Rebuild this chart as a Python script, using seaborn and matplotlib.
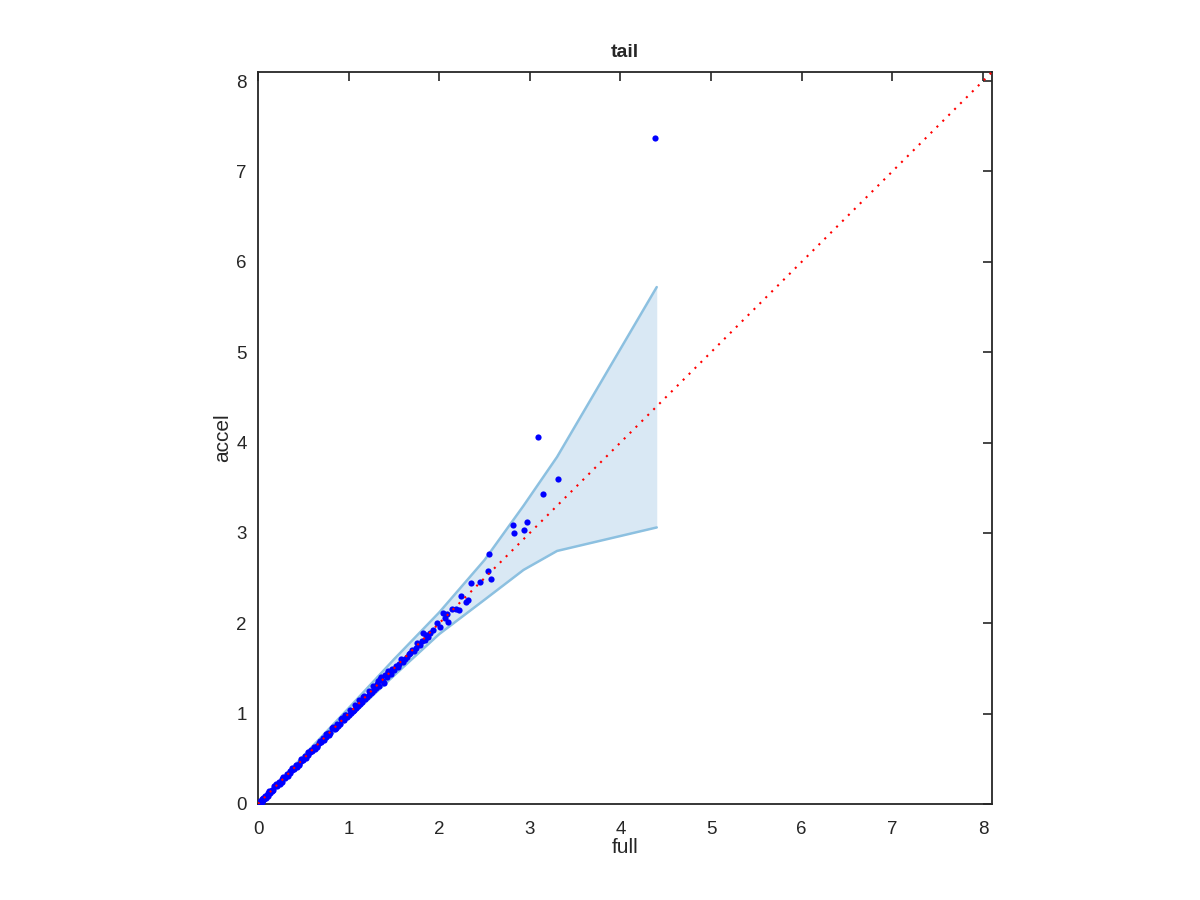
import numpy as np
import pandas as pd
import matplotlib
matplotlib.use("Agg")
import matplotlib.pyplot as plt
import seaborn as sns

# paired values (full, accel)
full = [0.00, 0.01, 0.02, 0.03, 0.04, 0.05, 0.06, 0.07, 0.08, 0.10, 0.11, 0.13, 0.15, 0.17,
        0.19, 0.21, 0.23, 0.25, 0.27, 0.30, 0.32, 0.35, 0.37, 0.40, 0.42, 0.45, 0.47, 0.50,
        0.52, 0.55, 0.57, 0.60, 0.62, 0.65, 0.67, 0.70, 0.72, 0.75, 0.77, 0.80, 0.82, 0.85,
        0.87, 0.90, 0.92, 0.95, 0.97, 1.00, 1.02, 1.05, 1.07, 1.10, 1.12, 1.15, 1.17, 1.20,
        1.22, 1.25, 1.27, 1.30, 1.32, 1.34, 1.36, 1.38, 1.40, 1.42, 1.44, 1.46, 1.48, 1.50,
        1.52, 1.55, 1.58, 1.62, 1.64, 1.67, 1.70, 1.72, 1.76, 1.79, 1.81, 1.82, 1.85, 1.88,
        1.90, 1.93,
        0.02, 0.05, 0.09, 0.12, 0.16, 0.20, 0.24, 0.28, 0.33, 0.38, 0.43, 0.48, 0.53, 0.58,
        0.63, 0.68, 0.73, 0.78, 0.83, 0.88, 0.93, 0.98, 1.03, 1.08, 1.13, 1.18, 1.23, 1.28,
        1.31, 1.35, 1.39, 1.43, 1.47, 1.56, 1.60, 1.68, 1.74, 1.84,
        0.04, 0.11, 0.18, 0.26, 0.35, 0.45, 0.55, 0.65, 0.75, 0.86, 0.96, 1.06, 1.16, 1.26,
        1.98, 2.01, 2.04, 2.06, 2.09, 2.10, 2.14, 2.19, 2.22, 2.24, 2.29, 2.32, 2.35, 2.45,
        2.54, 2.55, 2.57, 2.81, 2.82, 2.94, 2.97, 3.09, 3.15, 3.31, 4.38]
accel = [0.00, 0.01, 0.03, 0.02, 0.05, 0.04, 0.07, 0.06, 0.09, 0.10, 0.12, 0.12, 0.16, 0.16,
         0.20, 0.20, 0.24, 0.24, 0.28, 0.29, 0.33, 0.34, 0.38, 0.39, 0.43, 0.44, 0.48, 0.49,
         0.53, 0.54, 0.58, 0.59, 0.63, 0.64, 0.68, 0.69, 0.73, 0.74, 0.79, 0.78, 0.84, 0.83,
         0.89, 0.88, 0.94, 0.93, 0.99, 0.98, 1.04, 1.03, 1.09, 1.08, 1.15, 1.13, 1.19, 1.18,
         1.25, 1.23, 1.30, 1.28, 1.36, 1.31, 1.40, 1.36, 1.43, 1.40, 1.47, 1.45, 1.49, 1.48,
         1.53, 1.52, 1.60, 1.60, 1.63, 1.66, 1.70, 1.69, 1.78, 1.76, 1.80, 1.89, 1.87, 1.85,
         1.89, 1.92,
         0.00, 0.06, 0.07, 0.14, 0.14, 0.22, 0.22, 0.30, 0.31, 0.40, 0.41, 0.50, 0.51, 0.60,
         0.61, 0.70, 0.71, 0.76, 0.85, 0.86, 0.95, 0.96, 1.01, 1.06, 1.11, 1.16, 1.21, 1.26,
         1.33, 1.38, 1.34, 1.46, 1.44, 1.55, 1.57, 1.67, 1.73, 1.81,
         0.02, 0.09, 0.20, 0.24, 0.37, 0.43, 0.57, 0.63, 0.77, 0.84, 0.98, 1.04, 1.18, 1.24,
         2.00, 1.96, 2.11, 2.06, 2.10, 2.01, 2.16, 2.16, 2.15, 2.30, 2.23, 2.26, 2.44, 2.46,
         2.58, 2.77, 2.49, 3.09, 3.00, 3.03, 3.12, 4.06, 3.43, 3.60, 7.37]

# confidence band
band_x = [0.0, 0.5, 1.0, 1.5, 2.0, 2.5, 2.93, 3.30, 4.40]
band_hi = [0.0, 0.53, 1.06, 1.60, 2.12, 2.70, 3.30, 3.84, 5.72]
band_lo = [0.0, 0.47, 0.95, 1.42, 1.88, 2.26, 2.59, 2.80, 3.06]

ref_line = [0.0, 8.1]
ticks = [0, 1, 2, 3, 4, 5, 6, 7, 8]

sns.set_style("white")
plt.rcParams['font.family'] = ['Liberation Sans', 'DejaVu Sans']

fig = plt.figure(figsize=(12, 9), dpi=100)
ax = fig.add_axes([0.215, 0.1067, 0.6117, 0.8133])

ax.fill_between(band_x, band_lo, band_hi, color="#d9e8f4", linewidth=0, zorder=1)
sns.lineplot(x=band_x, y=band_hi, ax=ax, color="#8cc0e0", linewidth=1.8, zorder=2)
sns.lineplot(x=band_x, y=band_lo, ax=ax, color="#8cc0e0", linewidth=1.8, zorder=2)

df = pd.DataFrame({"full": full, "accel": accel})
sns.scatterplot(data=df, x="full", y="accel", ax=ax, color="#0000ff", s=20,
                linewidth=0, zorder=3)

sns.lineplot(x=ref_line, y=ref_line, ax=ax, color="#ff0000", linewidth=1.5,
             linestyle=(0, (1, 3)), zorder=4)

ax.set_xlim(0, 8.1)
ax.set_ylim(0, 8.1)
ax.set_xticks(ticks)
ax.set_yticks(ticks)
ax.tick_params(direction="in", length=6.5, width=1.2, top=True, right=True,
               labelsize=13.5, colors="#262626", pad=8)
ax.tick_params(axis="x", pad=12)
for s in ax.spines.values():
    s.set_color("#262626")
    s.set_linewidth(1.3)

ax.set_xlabel("full", fontsize=15, color="#262626", labelpad=0)
ax.set_ylabel("accel", fontsize=15, color="#262626", labelpad=3)
ax.set_title("tail", fontsize=14, fontweight="bold", pad=11)

fig.savefig("out.png", dpi=100)
